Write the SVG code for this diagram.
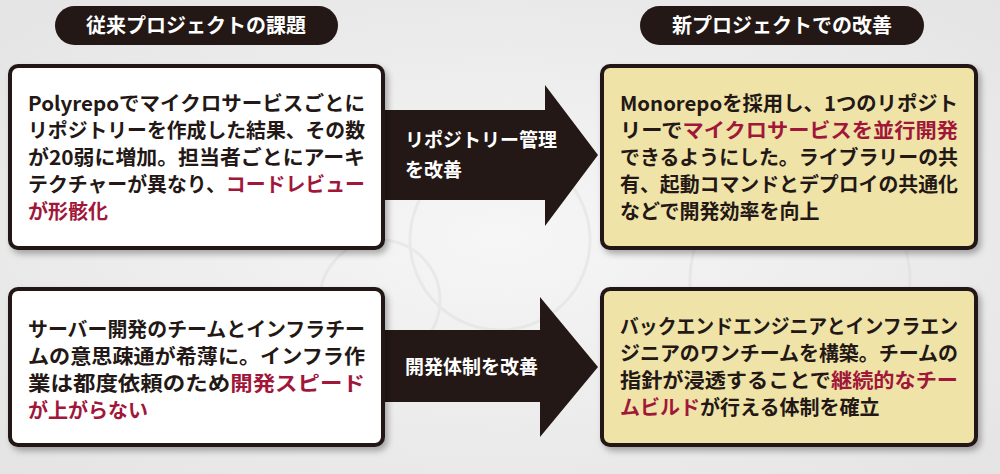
<svg xmlns="http://www.w3.org/2000/svg" width="1000" height="474" viewBox="0 0 1000 474">
<style>
.pill{fill:#231815}
.pt{fill:#fff;font:700 20px "Noto Sans CJK JP",sans-serif;text-anchor:middle}
.box{stroke:#231815;stroke-width:4}
.w{fill:#fff}.y{fill:#efe3a8}
.t{fill:#231815;font:700 20px "Noto Sans CJK JP",sans-serif}
.r{fill:#a0173a}
.arr{fill:#231815}
.at{fill:#fff;font:700 19px "Noto Sans CJK JP",sans-serif}
</style>
<defs>
<filter id="sh" x="-5%" y="-5%" width="115%" height="120%"><feDropShadow dx="3" dy="4" stdDeviation="3" flood-color="#000" flood-opacity="0.3"/></filter>
<radialGradient id="bg" cx="50%" cy="50%" r="70%"><stop offset="0" stop-color="#f6f6f6"/><stop offset="1" stop-color="#e4e4e4"/></radialGradient>
</defs>
<rect width="1000" height="474" fill="url(#bg)"/>
<g opacity="0.35" fill="none" stroke="#d6d6d6" stroke-width="3">
<circle cx="500" cy="240" r="90"/><circle cx="800" cy="280" r="110"/><circle cx="380" cy="300" r="60"/>
</g>
<g id="header-left"><rect class="pill" x="55" y="6" width="283" height="39" rx="19.5"/><text class="pt" x="196" y="33">従来プロジェクトの課題</text></g>
<g id="header-right"><rect class="pill" x="640" y="6" width="284" height="39" rx="19.5"/><text class="pt" x="782" y="33">新プロジェクトでの改善</text></g>
<g id="connectors">
<g id="arrow1"><polygon class="arr" points="380,110 545,110 545,85 598,155 545,226 545,200 380,200"/>
<text class="at" x="405" y="147">リポジトリー管理</text><text class="at" x="405" y="177">を改善</text></g>
<g id="arrow2"><polygon class="arr" points="380,330 540,330 540,297 598,367 540,437 540,402 380,402"/>
<text class="at" x="405" y="374">開発体制を改善</text></g>
</g>
<g id="box1"><rect class="box w" filter="url(#sh)" x="10" y="66" width="373" height="182" rx="8"/>
<text class="t" x="28" y="111" textLength="337" lengthAdjust="spacingAndGlyphs">Polyrepoでマイクロサービスごとに</text>
<text class="t" x="28" y="138" textLength="337" lengthAdjust="spacingAndGlyphs">リポジトリーを作成した結果、その数</text>
<text class="t" x="28" y="165" textLength="337" lengthAdjust="spacingAndGlyphs">が20弱に増加。担当者ごとにアーキ</text>
<text class="t" x="28" y="192" textLength="337" lengthAdjust="spacingAndGlyphs">テクチャーが異なり、<tspan class="r">コードレビュー</tspan></text>
<text class="t r" x="28" y="219">が形骸化</text></g>
<g id="box2"><rect class="box y" filter="url(#sh)" x="602" y="66" width="374" height="182" rx="8"/>
<text class="t" x="620" y="111" textLength="338" lengthAdjust="spacingAndGlyphs">Monorepoを採用し、1つのリポジト</text>
<text class="t" x="620" y="138" textLength="338" lengthAdjust="spacingAndGlyphs">リーで<tspan class="r">マイクロサービスを並行開発</tspan></text>
<text class="t" x="620" y="165" textLength="338" lengthAdjust="spacingAndGlyphs">できるようにした。ライブラリーの共</text>
<text class="t" x="620" y="192" textLength="338" lengthAdjust="spacingAndGlyphs">有、起動コマンドとデプロイの共通化</text>
<text class="t" x="620" y="219">などで開発効率を向上</text></g>
<g id="box3"><rect class="box w" filter="url(#sh)" x="10" y="289" width="373" height="156" rx="8"/>
<text class="t" x="28" y="337" textLength="337" lengthAdjust="spacingAndGlyphs">サーバー開発のチームとインフラチー</text>
<text class="t" x="28" y="364" textLength="337" lengthAdjust="spacingAndGlyphs">ムの意思疎通が希薄に。インフラ作</text>
<text class="t" x="28" y="391" textLength="337" lengthAdjust="spacingAndGlyphs">業は都度依頼のため<tspan class="r">開発スピード</tspan></text>
<text class="t r" x="28" y="418">が上がらない</text></g>
<g id="box4"><rect class="box y" filter="url(#sh)" x="602" y="289" width="374" height="156" rx="8"/>
<text class="t" x="620" y="334" textLength="338" lengthAdjust="spacingAndGlyphs">バックエンドエンジニアとインフラエン</text>
<text class="t" x="620" y="361" textLength="338" lengthAdjust="spacingAndGlyphs">ジニアのワンチームを構築。チームの</text>
<text class="t" x="620" y="388" textLength="338" lengthAdjust="spacingAndGlyphs">指針が浸透することで<tspan class="r">継続的なチー</tspan></text>
<text class="t" x="620" y="415"><tspan class="r">ムビルド</tspan>が行える体制を確立</text></g>
</svg>
